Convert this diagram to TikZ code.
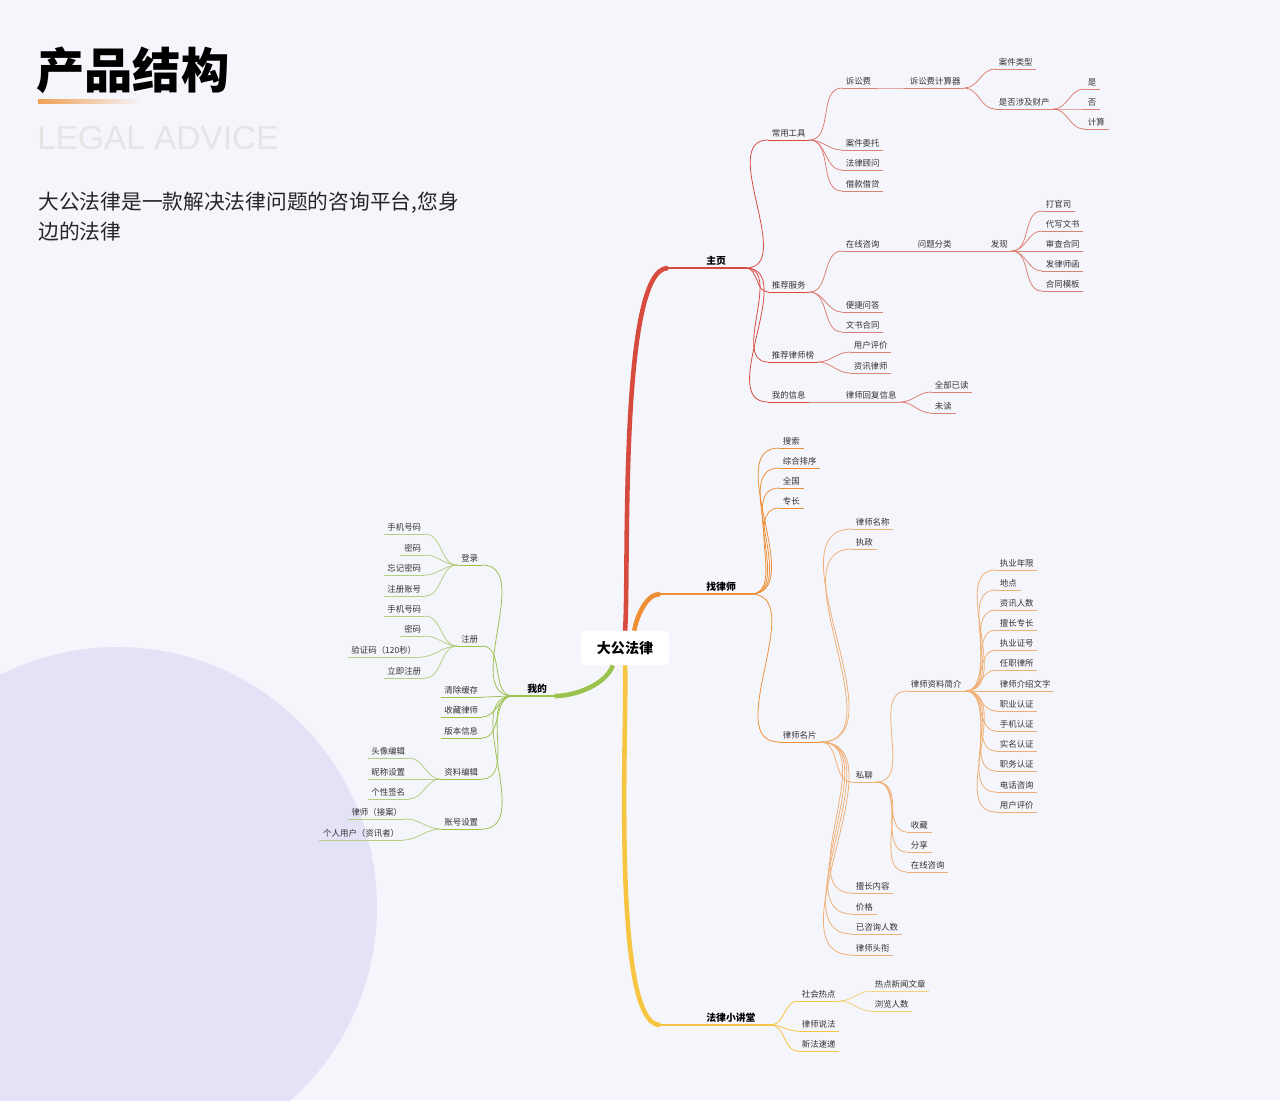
\documentclass[tikz,border=0pt]{standalone}
\usepackage{fontspec}
\setmainfont{Noto Sans CJK SC}
\newfontfamily\latinsans{Liberation Sans}
\definecolor{bg}{HTML}{F5F5FC}
\definecolor{circ}{HTML}{E3E2F7}
\definecolor{rd}{HTML}{D64B3E}
\definecolor{rdl}{HTML}{DE8076}
\definecolor{og}{HTML}{EE8E35}
\definecolor{ogl}{HTML}{F0B075}
\definecolor{yl}{HTML}{F6C542}
\definecolor{yll}{HTML}{F2D27E}
\definecolor{gn}{HTML}{9CC24E}
\definecolor{gnl}{HTML}{B5CF84}
\tikzset{
  leaf/.style={anchor=south west, inner xsep=2pt, inner ysep=1.2pt,
    font=\fontsize{4.8}{5.5}\selectfont, text=black!80,
    append after command={(\tikzlastnode.south west) edge[draw=#1, line width=.45pt] (\tikzlastnode.south east)}},
  lleaf/.style={leaf=#1, anchor=south east},
  mainnode/.style={anchor=south west, inner xsep=0pt, inner ysep=1.5pt, align=left,
    font=\fontsize{5.6}{6.5}\selectfont\bfseries,
    append after command={(\tikzlastnode.south west) edge[draw=#1, line width=1.2pt] (\tikzlastnode.south east)}},
  link/.style={draw=#1, line width=.45pt, out=0, in=180},
  llink/.style={draw=#1, line width=.45pt, out=180, in=0},
  trunk/.style={draw=#1, line width=2.6pt, looseness=0.35},
  rootbox/.style={fill=white, rounded corners=2pt, minimum width=1.76cm, minimum height=.68cm,
    font=\fontsize{8}{9}\selectfont\bfseries},
}
\begin{document}
\begin{tikzpicture}[x=0.02cm, y=-0.02cm]
\useasboundingbox (0,0) rectangle (1280,1100);
\clip (0,0) rectangle (1280,1100);
\fill[bg] (0,0) rectangle (1280,1100);
\fill[circ] (117,907) circle (5.2cm);
% title block
\node[anchor=west, inner sep=0pt, font=\fontsize{27.5}{28}\selectfont\bfseries] (title) at (36,70) {产品结构};
\shade[left color=og!85, right color=bg] (38,99) rectangle (142,103);
\node[anchor=west, inner sep=0pt, text=black!10, font=\fontsize{19}{20}\latinsans] (sub) at (37,138) {LEGAL ADVICE};
\node[anchor=north west, inner sep=0pt, align=left, font=\fontsize{11.8}{17}\selectfont, text=black!85] (desc) at (38,192)
  {大公法律是一款解决法律问题的咨询平台,您身\\边的法律};

% root and main branches
\node[rootbox] (root) at (625,648) {大公法律};
\node[mainnode=rd, text width=1.54cm] (zy) at (668,268) {\hspace*{0.76cm}主页};
\node[mainnode=og, text width=1.8cm] (zls) at (660,594) {\hspace*{0.92cm}找律师};
\node[mainnode=yl, text width=2.2cm] (fl) at (660,1025) {\hspace*{0.92cm}法律小讲堂};
\node[mainnode=gn, text width=.82cm] (wd) at (513,696) {\hspace*{0.28cm}我的};
\draw[trunk=rd] (root.north) to[out=85, in=180] (zy.south west);
\draw[trunk=og] (root.62) to[out=80, in=180, looseness=0.8] (zls.south west);
\draw[trunk=yl] (root.south) to[out=-87, in=180] (fl.south west);
\draw[trunk=gn] (root.-125) to[out=-110, in=0, looseness=0.8] (wd.south east);

% 主页
\foreach \n/\t/\y in {cy/常用工具/140, tj/推荐服务/292, tl/推荐律师榜/362, wx/我的信息/402}
  {\node[leaf=rd] (\n) at (768,\y) {\t}; \draw[link=rd] (zy.south east) to (\n.south west);}
\foreach \n/\t/\y in {ss/诉讼费/88, aw/案件委托/150, fg/法律顾问/170, jk/借款借贷/191}
  {\node[leaf=rdl] (\n) at (842,\y) {\t}; \draw[link=rdl] (cy.south east) to (\n.south west);}
\node[leaf=rdl] (jsq) at (906,88) {诉讼费计算器};
\draw[link=rdl] (ss.south east) to (jsq.south west);
\node[leaf=rdl] (aj) at (995,69) {案件类型};
\node[leaf=rdl] (cc) at (995,109) {是否涉及财产};
\draw[link=rdl] (jsq.south east) to (aj.south west);
\draw[link=rdl] (jsq.south east) to (cc.south west);
\foreach \n/\t/\y in {shi/是/89, fou/否/109, js/计算/129}
  {\node[leaf=rdl] (\n) at (1084,\y) {\t}; \draw[link=rdl] (cc.south east) to (\n.south west);}
\foreach \n/\t/\y in {zx/在线咨询/251, bj/便捷问答/312, ws/文书合同/332}
  {\node[leaf=rdl] (\n) at (842,\y) {\t}; \draw[link=rdl] (tj.south east) to (\n.south west);}
\node[leaf=rdl] (wt) at (914,251) {问题分类};
\node[leaf=rdl] (fx) at (987,251) {发现};
\draw[link=rdl] (zx.south east) to (wt.south west);
\draw[link=rdl] (wt.south east) to (fx.south west);
\foreach \n/\t/\y in {fx1/打官司/211, fx2/代写文书/231, fx3/审查合同/251, fx4/发律师函/271, fx5/合同模板/291}
  {\node[leaf=rdl] (\n) at (1042,\y) {\t}; \draw[link=rdl] (fx.south east) to (\n.south west);}
\foreach \n/\t/\y in {yp/用户评价/352, zl/资讯律师/373}
  {\node[leaf=rdl] (\n) at (850,\y) {\t}; \draw[link=rdl] (tl.south east) to (\n.south west);}
\node[leaf=rdl] (hf) at (842,402) {律师回复信息};
\draw[link=rdl] (wx.south east) to (hf.south west);
\foreach \n/\t/\y in {qb/全部已读/392, wd1/未读/413}
  {\node[leaf=rdl] (\n) at (931,\y) {\t}; \draw[link=rdl] (hf.south east) to (\n.south west);}

% 找律师
\foreach \n/\t/\y in {so/搜索/448, zh/综合排序/468, qg/全国/488, zc/专长/508, mp/律师名片/742}
  {\node[leaf=og] (\n) at (779,\y) {\t}; \draw[link=og] (zls.south east) to (\n.south west);}
\foreach \n/\t/\y in {mc/律师名称/529, zz/执政/549, sl/私聊/782, sc/擅长内容/893, jg/价格/914, yz/已咨询人数/934, tx/律师头衔/955}
  {\node[leaf=ogl] (\n) at (852,\y) {\t}; \draw[link=ogl] (mp.south east) to (\n.south west);}
\foreach \n/\t/\y in {jj/律师资料简介/691, shc/收藏/832, fxg/分享/852, zxz/在线咨询/872}
  {\node[leaf=ogl] (\n) at (907,\y) {\t}; \draw[link=ogl] (sl.south east) to (\n.south west);}
\foreach \n/\t/\y in {j1/执业年限/570, j2/地点/590, j3/资讯人数/610, j4/擅长专长/630, j5/执业证号/650,
    j6/任职律所/670, j7/律师介绍文字/691, j8/职业认证/711, j9/手机认证/731, j10/实名认证/751,
    j11/职务认证/771, j12/电话咨询/792, j13/用户评价/812}
  {\node[leaf=ogl] (\n) at (996,\y) {\t}; \draw[link=ogl] (jj.south east) to (\n.south west);}

% 法律小讲堂
\foreach \n/\t/\y in {rd1/社会热点/1001, sf/律师说法/1031, xf/新法速递/1051}
  {\node[leaf=yl] (\n) at (798,\y) {\t}; \draw[link=yl] (fl.south east) to (\n.south west);}
\foreach \n/\t/\y in {xw/热点新闻文章/991, ll/浏览人数/1011}
  {\node[leaf=yll] (\n) at (871,\y) {\t}; \draw[link=yll] (rd1.south east) to (\n.south west);}

% 我的
\foreach \n/\t/\y in {dl/登录/565, zcc/注册/646, qc/清除缓存/697, scl/收藏律师/717, bb/版本信息/738, bj2/资料编辑/779, zs/账号设置/829}
  {\node[lleaf=gn] (\n) at (482,\y) {\t}; \draw[llink=gn] (wd.south west) to (\n.south east);}
\foreach \n/\t/\y in {d1/手机号码/534, d2/密码/555, d3/忘记密码/575, d4/注册账号/596}
  {\node[lleaf=gnl] (\n) at (425,\y) {\t}; \draw[llink=gnl] (dl.south west) to (\n.south east);}
\foreach \n/\t/\y/\x in {r1/手机号码/616/425, r2/密码/636/425, r3/验证码（120秒）/657/420, r4/立即注册/678/425}
  {\node[lleaf=gnl] (\n) at (\x,\y) {\t}; \draw[llink=gnl] (zcc.south west) to (\n.south east);}
\foreach \n/\t/\y in {b1/头像编辑/758, b2/昵称设置/779, b3/个性签名/799}
  {\node[lleaf=gnl] (\n) at (409,\y) {\t}; \draw[llink=gnl] (bj2.south west) to (\n.south east);}
\node[lleaf=gnl] (a1) at (406,819) {律师（接案）};
\node[lleaf=gnl] (a2) at (403,840) {个人用户（资讯者）};
\draw[llink=gnl] (zs.south west) to (a1.south east);
\draw[llink=gnl] (zs.south west) to (a2.south east);
\end{tikzpicture}
\end{document}
